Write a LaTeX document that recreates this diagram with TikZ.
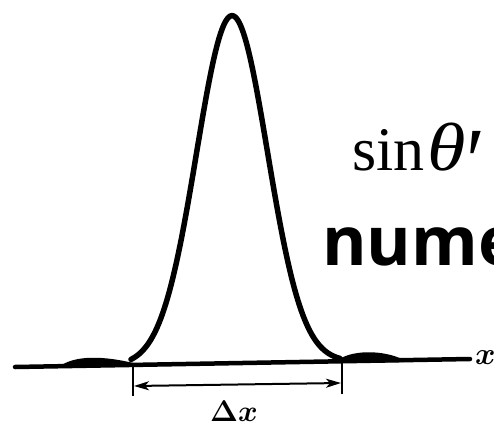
\RequirePackage{fix-cm}
\documentclass[tikz,border=0pt]{standalone}
\usepackage{fontspec}
\usetikzlibrary{arrows.meta}
\newfontfamily\serifa{Liberation Serif}
\newfontfamily\sansa{Open Sans}
\tikzset{
  curve/.style={line width=5.5pt,line join=round,line cap=round},
  axisline/.style={line width=4.5pt,line cap=round},
  lobe/.style={line width=2pt,fill=black,line join=round},
  tickline/.style={line width=2pt},
  dimline/.style={line width=2pt,{Stealth[length=15pt,width=9pt,inset=4pt]}-{Stealth[length=15pt,width=9pt,inset=4pt]}},
  lbl/.style={inner sep=0pt}
}
\begin{document}
\begin{tikzpicture}[x=1pt,y=-1pt]
\useasboundingbox (0,0) rectangle (494,430);
\clip (0,0) rectangle (494,430);
\coordinate (axL) at (15,367);
\coordinate (axR) at (470,359);
\draw[axisline] (axL) -- (axR);
\node[lbl,anchor=base west,font=\fontsize{24.88}{26}\selectfont\boldmath] (xlab) at (475,364) {\scalebox{1.25}{$x$}};
\coordinate (l1) at (62,366);
\coordinate (l2) at (137,365);
\filldraw[lobe] (l1) .. controls (76,357) and (102,356) .. (l2) -- cycle;
\coordinate (r1) at (337,362);
\coordinate (r2) at (404,361);
\filldraw[lobe] (r1) .. controls (350,351) and (382,350) .. (r2) -- cycle;
\draw[curve] plot[domain=-101:108,samples=120] ({232+\x},{363.7-0.0175*\x-348*exp(-\x*\x/2520)});
\coordinate (tlT) at (133,364);
\coordinate (tlB) at (133,396);
\coordinate (trT) at (342,361);
\coordinate (trB) at (342,394);
\draw[tickline] (tlT) -- (tlB);
\draw[tickline] (trT) -- (trB);
\coordinate (aL) at (134,386);
\coordinate (aR) at (341,383);
\draw[dimline] (aL) -- (aR);
\node[lbl,anchor=base,font=\fontsize{24.88}{26}\selectfont\boldmath] (dx) at (234,421) {\scalebox{1.2}{$\Delta x$}};
\node[lbl,anchor=base west,font=\fontsize{62}{62}\selectfont\serifa] (sin) at (352,171) {sin\kern3pt{\fontsize{68}{68}\selectfont\itshape\scalebox{1.15}[1]{θ}}\kern1pt\raisebox{-22pt}{\scalebox{1.4}[1.53]{′}}};
\node[lbl,anchor=base west,font=\fontsize{68}{68}\selectfont\sansa\bfseries] (num) at (322,265) {nume};
\end{tikzpicture}
\end{document}
